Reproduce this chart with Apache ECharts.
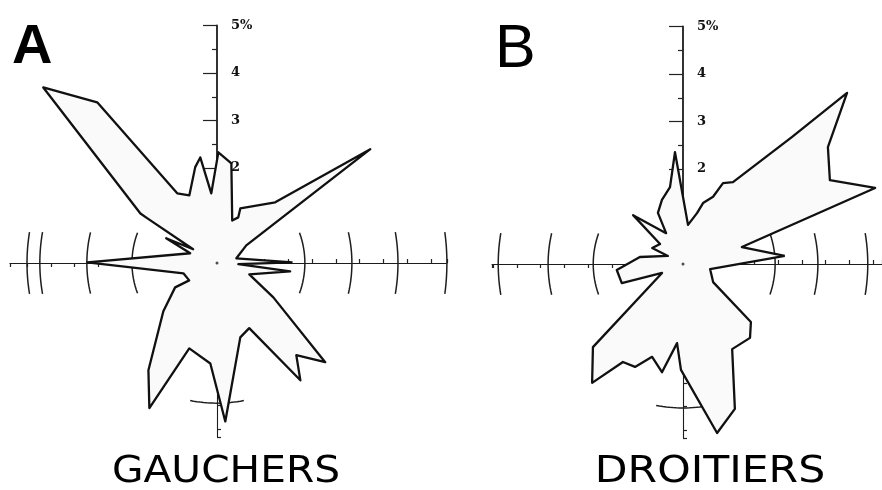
<!DOCTYPE html>
<html>
<head>
<meta charset="utf-8">
<script src="https://cdn.jsdelivr.net/npm/echarts@6/dist/echarts.min.js"></script>
<style>
  html, body { margin: 0; padding: 0; background: #ffffff; }
  #chart { width: 882px; height: 490px; }
</style>
</head>
<body>
<div id="chart"></div>
<script>
// Rose diagrams: direction in degrees (counter-clockwise from east) and share in %.
const gauchersAngles = [0.5, 13.7, 31.1, 36.6, 46.2, 66.9, 65.0, 70.3, 81.8, 89.3, 94.7, 99.0, 102.8, 112.2,
  119.7, 126.7, 134.7, 147.1, 147.3, 150, 154, 160, 179.7, 197, 212, 210.2, 222, 237.4, 245, 252, 266.2, 273,
  287.4, 296.3, 305.4, 310.7, 317.5, 328.6, 340.7, 353.5, 357];
const gauchersPct = [1.59, 0.42, 0.72, 4.02, 1.77, 1.25, 1.06, 0.95, 2.12, 2.33, 1.47, 2.25, 2.07, 1.54,
  1.69, 4.22, 5.20, 1.92, 1.74, 0.58, 1.19, 0.60, 2.73, 0.74, 0.69, 1.02, 1.52, 2.68, 3.37, 1.89, 2.12, 3.34,
  1.64, 1.53, 3.03, 2.56, 3.09, 1.39, 0.72, 1.55, 0.45];

const droitiersAngles = [4.5, 16.1, 21.6, 29.7, 38.9, 46.2, 49.4, 58.6, 63.7, 65.9, 71.8, 74.6, 82.7, 94.1,
  99.6, 108.2, 116.1, 118.7, 135.6, 139, 152.7, 152, 170.8, 185.2, 197.3, 203.2, 222.7, 232.6, 238.5, 245,
  251.6, 259, 265.7, 268.9, 281.4, 289.7, 300, 312.2, 319.5, 329, 349.5];
const droitiersPct = [2.15, 1.29, 4.35, 3.56, 3.92, 4.99, 3.52, 2.02, 1.90, 1.55, 1.35, 1.11, 0.83, 2.36,
  1.64, 1.42, 1.20, 0.74, 1.47, 0.64, 0.73, 0.36, 0.92, 1.40, 1.35, 0.48, 2.58, 3.15, 2.42, 2.39,
  2.06, 2.32, 1.67, 2.23, 3.63, 3.24, 2.07, 2.10, 1.88, 0.74, 0.58];

// Scale on the vertical arm
const scaleTicks = [2, 3, 4, 5];
const scaleLabels = ['2', '3', '4', '5%'];

// Ring marks crossing the arms (%)
const gauchersRingsEast = [1.85, 2.84, 3.81, 4.84];
const gauchersRingsWest = [1.79, 2.74, 3.73, 4.0];
const gauchersRingsSouth = [2.95];
const droitiersRingsEast = [1.94, 2.84, 3.89];
const droitiersRingsWest = [1.89, 2.84, 3.89];
const droitiersRingsSouth = [3.03];

// Arm lengths (%): east, north, west, south
const gauchersArms = [4.84, 5, 4.36, 3.66];
const droitiersArms = [4.19, 5, 4.02, 3.66];

const panelLetters = ['A', 'B'];
const panelTitles = ['GAUCHERS', 'DROITIERS'];

// ---- layout ----
const PX = 47.5;            // pixels per percent
const MAIN_MAX = 5.6;
const panels = [
  { center: [217, 263], angles: gauchersAngles, pct: gauchersPct, arms: gauchersArms,
    east: gauchersRingsEast, west: gauchersRingsWest, south: gauchersRingsSouth },
  { center: [683, 264], angles: droitiersAngles, pct: droitiersPct, arms: droitiersArms,
    east: droitiersRingsEast, west: droitiersRingsWest, south: droitiersRingsSouth }
];

const polar = [], angleAxis = [], radiusAxis = [], series = [];
const armDirs = [0, 90, 180, 270];

panels.forEach(function (p) {
  // coordinate system for the rose itself
  const m = polar.length;
  polar.push({ center: p.center, radius: MAIN_MAX * PX });
  angleAxis.push({ polarIndex: m, type: 'value', min: 0, max: 360, startAngle: 0, clockwise: false, show: false });
  radiusAxis.push({ polarIndex: m, type: 'value', min: 0, max: MAIN_MAX, show: false });

  // four arms of the cross, each drawn as a radius axis
  armDirs.forEach(function (dir, i) {
    const len = p.arms[i];
    const k = polar.length;
    const north = dir === 90;
    polar.push({ center: p.center, radius: len * PX });
    angleAxis.push({ polarIndex: k, type: 'value', min: 0, max: 360, startAngle: dir, show: false });
    radiusAxis.push({
      polarIndex: k, type: 'value', min: 0, max: len, interval: north ? 1 : 0.5,
      axisLine: { show: true, lineStyle: { color: '#1c1c1c', width: north ? 1.8 : 1.1 } },
      axisTick: { show: true, length: north ? 14 : 4, lineStyle: { color: '#222', width: 1.2 } },
      minorTick: { show: north, splitNumber: 2, length: 5, lineStyle: { color: '#222', width: 1.2 } },
      splitLine: { show: false },
      axisLabel: north ? {
        show: true, margin: -14, align: 'left', verticalAlign: 'middle',
        fontFamily: 'DejaVu Serif', fontWeight: 'bold', fontSize: 13, color: '#111',
        formatter: function (v) {
          const idx = scaleTicks.indexOf(Math.round(v * 100) / 100);
          return idx >= 0 ? scaleLabels[idx] : '';
        }
      } : { show: false }
    });
  });

  // ring marks across the arms
  const rings = [];
  p.east.forEach(function (r) { rings.push([r, 0, 31]); });
  p.west.forEach(function (r) { rings.push([r, 180, 31]); });
  p.south.forEach(function (r) { rings.push([r, 270, 27]); });
  series.push({
    type: 'custom', coordinateSystem: 'polar', polarIndex: m, z: 2, silent: true,
    data: rings,
    renderItem: function (params, api) {
      const r = api.value(0), a = api.value(1), half = api.value(2);
      const span = (half / (r * PX)) * 180 / Math.PI;
      const pts = [];
      for (let j = 0; j <= 16; j++) {
        pts.push(api.coord([r, a - span + (2 * span * j) / 16]));
      }
      return { type: 'polyline', shape: { points: pts },
               style: { stroke: '#1e1e1e', lineWidth: 1.5, fill: null } };
    }
  });

  // rose outline
  const pts = p.pct.map(function (v, j) { return [v, p.angles[j]]; });
  pts.push(pts[0].slice());
  series.push({
    type: 'line', coordinateSystem: 'polar', polarIndex: m, z: 3,
    data: pts, symbol: 'none', smooth: false,
    lineStyle: { color: '#111', width: 2.3, join: 'round' },
    areaStyle: { color: '#fafafa', opacity: 1 }
  });

  // centre point
  series.push({
    type: 'scatter', coordinateSystem: 'polar', polarIndex: m, z: 4,
    data: [[0, 0]], symbolSize: 3, itemStyle: { color: '#222' }
  });
});

const chart = echarts.init(document.getElementById('chart'), null, { renderer: 'canvas' });
chart.setOption({
  animation: false,
  backgroundColor: '#ffffff',
  polar: polar,
  angleAxis: angleAxis,
  radiusAxis: radiusAxis,
  series: series,
  graphic: [
    { type: 'text', x: 12, y: 48, style: { text: panelLetters[0], align: 'left', verticalAlign: 'middle',
      fontFamily: 'Liberation Sans', fontWeight: 'bold', fontSize: 56, fill: '#000' } },
    { type: 'text', x: 495, y: 50, style: { text: panelLetters[1], align: 'left', verticalAlign: 'middle',
      fontFamily: 'Liberation Sans', fontSize: 61, fill: '#000' } },
    { type: 'text', x: 226, y: 472, scaleX: 1.1, style: { text: panelTitles[0], align: 'center', verticalAlign: 'middle',
      fontFamily: 'DejaVu Sans', fontSize: 37, fill: '#000' } },
    { type: 'text', x: 710, y: 472, scaleX: 1.15, style: { text: panelTitles[1], align: 'center', verticalAlign: 'middle',
      fontFamily: 'DejaVu Sans', fontSize: 37, fill: '#000' } }
  ]
});
</script>
</body>
</html>
